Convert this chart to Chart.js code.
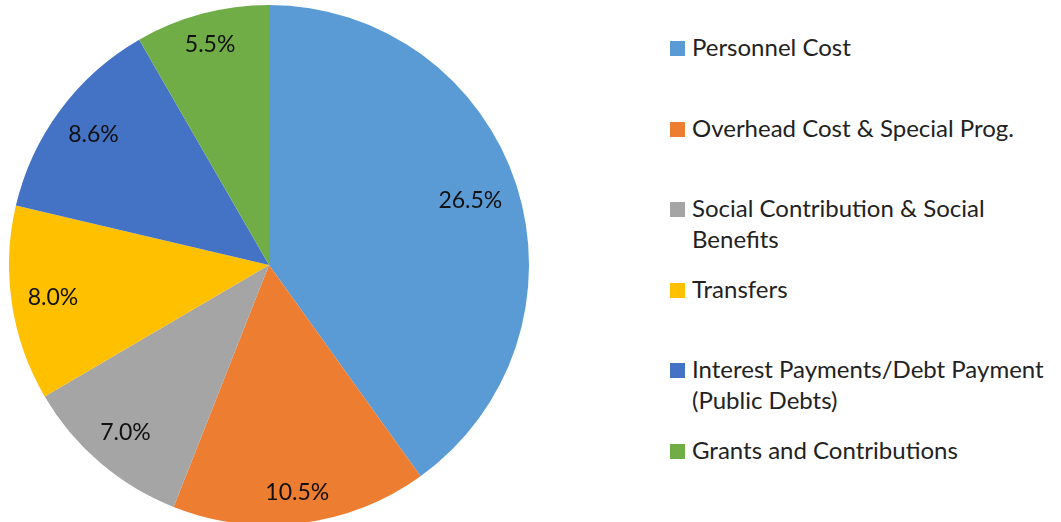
<!DOCTYPE html>
<html>
<head>
<meta charset="utf-8">
<script src="https://cdn.jsdelivr.net/npm/chart.js@4/dist/chart.umd.min.js"></script>
<style>
    html, body { margin: 0; padding: 0; background: #fff; overflow: hidden; }
    body { width: 1061px; height: 522px; position: relative; font-family: Lato, "Open Sans", sans-serif; }
    #pie-wrap { position: absolute; left: 9px; top: 5px; width: 520px; height: 520px; }
    #legend { position: absolute; left: 670px; top: 0; width: 391px; margin: 0; padding: 0; list-style: none; }
    #legend li { position: absolute; left: 0; width: 391px; font-size: 24px; line-height: 31px; color: #222; }
    #legend .box { position: absolute; left: 0; top: 10px; width: 15px; height: 15px; }
    #legend .txt { display: block; margin-left: 22px; width: 368px; }
</style>
</head>
<body>
<div id="pie-wrap"><canvas id="pieChart" width="520" height="520"></canvas></div>
<ul id="legend"></ul>
<script>
const categories = [
    'Personnel Cost',
    'Overhead Cost & Special Prog.',
    'Social Contribution & Social Benefits',
    'Transfers',
    'Interest Payments/Debt Payment (Public Debts)',
    'Grants and Contributions'
];
const shareValues = [26.5, 10.5, 7.0, 8.0, 8.6, 5.5];
const sliceColors = ['#5B9BD5', '#ED7D31', '#A5A5A5', '#FFC000', '#4472C4', '#70AD47'];

// legend on the right, Excel spaces every entry evenly
function buildLegend() {
    const list = document.getElementById('legend');
    categories.forEach((name, i) => {
        const li = document.createElement('li');
        li.style.top = (31 + i * 80.5) + 'px';
        li.innerHTML = `<span class="box" style="background:${sliceColors[i]}"></span><span class="txt"></span>`;
        li.querySelector('.txt').textContent = name;
        list.appendChild(li);
    });
}

// "best fit" style: push each label out until its far corner sits just inside the rim
const sliceLabels = {
    id: 'sliceLabels',
    afterDatasetsDraw(chart) {
        const ctx = chart.ctx;
        const meta = chart.getDatasetMeta(0);
        ctx.save();
        ctx.font = '23px Lato, "Open Sans", sans-serif';
        ctx.fillStyle = '#111';
        ctx.textAlign = 'center';
        ctx.textBaseline = 'middle';
        meta.data.forEach((arc, i) => {
            const text = shareValues[i].toFixed(1) + '%';
            const w = ctx.measureText(text).width;
            const h = 20;
            const mid = (arc.startAngle + arc.endAngle) / 2;
            const dx = Math.cos(mid), dy = Math.sin(mid);
            const ox = Math.sign(dx) * w / 2, oy = Math.sign(dy) * h / 2;
            const target = arc.outerRadius - 15;
            const b = dx * ox + dy * oy;
            const r = -b + Math.sqrt(b * b - (ox * ox + oy * oy - target * target));
            ctx.fillText(text, arc.x + dx * r, arc.y + dy * r);
        });
        ctx.restore();
    }
};

function initChart() {
    const ctx = document.getElementById('pieChart').getContext('2d');
    new Chart(ctx, {
        type: 'pie',
        data: {
            labels: categories,
            datasets: [{
                data: shareValues,
                backgroundColor: sliceColors,
                borderWidth: 0
            }]
        },
        options: {
            responsive: false,
            animation: false,
            layout: { padding: 0 },
            plugins: {
                legend: { display: false },
                tooltip: { enabled: false }
            }
        },
        plugins: [sliceLabels]
    });
}

buildLegend();
initChart();
</script>
</body>
</html>
